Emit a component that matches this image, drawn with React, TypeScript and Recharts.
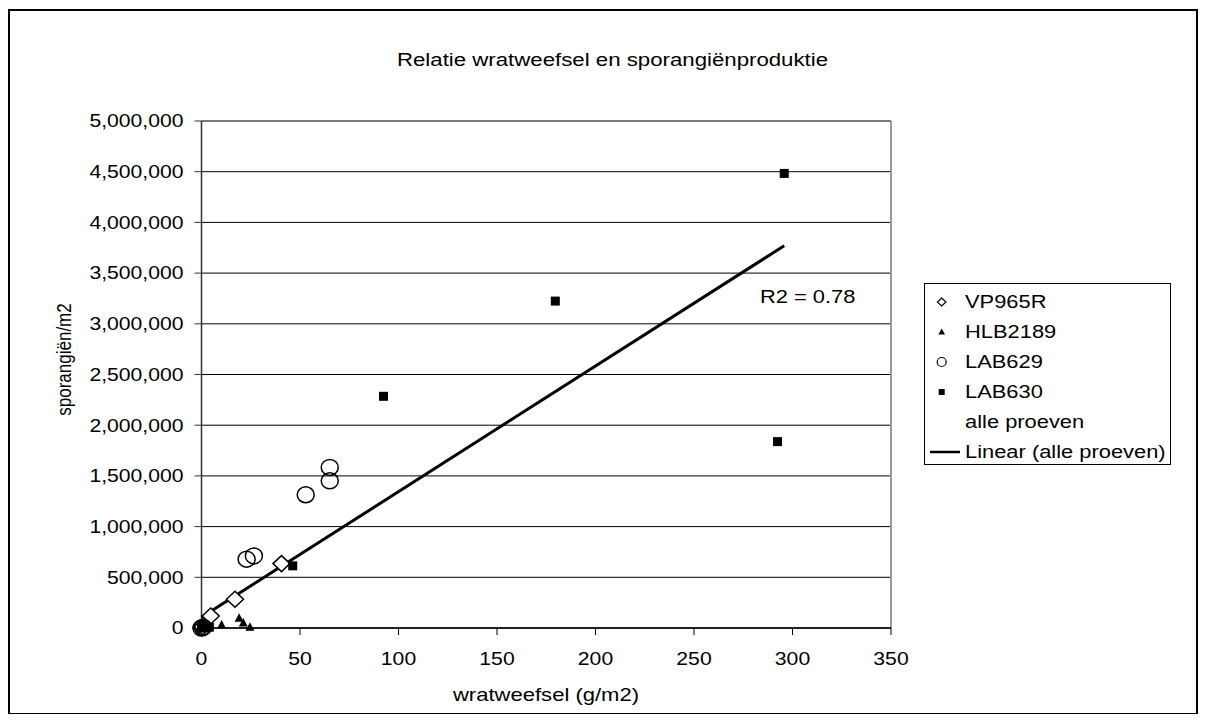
import React from 'react';
import {
  ScatterChart,
  Scatter,
  XAxis,
  YAxis,
  CartesianGrid,
  ReferenceLine,
  Legend,
} from 'recharts';

// values
const vp965r = [
  { x: 0, y: 0 },
  { x: 0.6, y: 12000 },
  { x: 4.7, y: 119000 },
  { x: 17, y: 283000 },
  { x: 40.6, y: 635000 },
];
const hlb2189 = [
  { x: 1, y: 0 },
  { x: 10.2, y: 30000 },
  { x: 19.1, y: 95000 },
  { x: 21.2, y: 50000 },
  { x: 24.6, y: 8000 },
];
const lab629 = [
  { x: 0, y: 0 },
  { x: 0.8, y: 8000 },
  { x: 22.9, y: 679000 },
  { x: 26.6, y: 711000 },
  { x: 52.9, y: 1314000 },
  { x: 65.1, y: 1452000 },
  { x: 65.1, y: 1584000 },
];
const lab630 = [
  { x: 0, y: 0 },
  { x: 0, y: 22000 },
  { x: 0.4, y: 30000 },
  { x: 1.5, y: 15000 },
  { x: 2.5, y: 3000 },
  { x: 4, y: 8000 },
  { x: 46.3, y: 613000 },
  { x: 92.4, y: 2285000 },
  { x: 179.6, y: 3224000 },
  { x: 292.4, y: 1838000 },
  { x: 295.8, y: 4483000 },
];
// trend line end points as drawn in the reference
const trendLine = [
  { x: 0, y: 106000 },
  { x: 295.8, y: 3770000 },
];

const seriesNames = ['VP965R', 'HLB2189', 'LAB629', 'LAB630', 'alle proeven', 'Linear (alle proeven)'];
const xTicks = [0, 50, 100, 150, 200, 250, 300, 350];
const yTicks = [0, 500000, 1000000, 1500000, 2000000, 2500000, 3000000, 3500000, 4000000, 4500000, 5000000];

const FONT = '"Liberation Sans", Arial, sans-serif';
const FS = 17.5;

const Diamond = ({ cx, cy }: any) => (
  <path
    d={`M${cx},${cy - 8} L${cx + 8.5},${cy} L${cx},${cy + 8} L${cx - 8.5},${cy} Z`}
    fill="#fff"
    stroke="#000"
    strokeWidth={1.5}
  />
);
const Triangle = ({ cx, cy }: any) => (
  <path d={`M${cx},${cy - 5} L${cx + 4.5},${cy + 3.5} L${cx - 4.5},${cy + 3.5} Z`} fill="#000" />
);
const Ring = ({ cx, cy }: any) => (
  <ellipse cx={cx} cy={cy} rx={8.5} ry={8} fill="none" stroke="#000" strokeWidth={1.5} />
);
const Square = ({ cx, cy }: any) => <rect x={cx - 4.5} y={cy - 4.5} width={9} height={9} fill="#000" />;

const XTick = ({ x, y, payload }: any) => (
  <g transform={`translate(${x},${y})`}>
    <text transform="scale(1.21,1)" textAnchor="middle" dy="0.71em" fontSize={FS} fontFamily={FONT} fill="#000">
      {payload.value}
    </text>
  </g>
);

const YTick = ({ x, y, payload }: any) => (
  <g transform={`translate(${x},${y})`}>
    <text transform="scale(1.21,1)" textAnchor="end" dy="0.36em" fontSize={FS} fontFamily={FONT} fill="#000">
      {Number(payload.value).toLocaleString('en-US')}
    </text>
  </g>
);

const legendMarkers = [
  <path d="M17.7,11 L22,15 L17.7,19 L13.4,15 Z" fill="#fff" stroke="#000" strokeWidth={1.2} />,
  <path d="M17.7,11.5 L21,17.5 L14.4,17.5 Z" fill="#000" />,
  <circle cx={17.7} cy={15} r={4.5} fill="none" stroke="#000" strokeWidth={1.2} />,
  <rect x={14.7} y={12} width={6} height={6} fill="#000" />,
  null,
  <line x1={6} y1={15} x2={36} y2={15} stroke="#000" strokeWidth={2.5} />,
];

const renderLegend = () => (
  <div
    style={{
      width: 247,
      height: 182,
      border: '1px solid #000',
      boxSizing: 'border-box',
      background: '#fff',
      paddingTop: 2.7,
      fontFamily: FONT,
      fontSize: FS,
      color: '#000',
    }}
  >
    {seriesNames.map((name, i) => (
      <div key={name} style={{ position: 'relative', height: 30 }}>
        <svg width={40} height={30} style={{ position: 'absolute', left: -1, top: 0 }}>
          {legendMarkers[i]}
        </svg>
        <span
          style={{
            position: 'absolute',
            left: 40,
            top: 0,
            lineHeight: '30px',
            whiteSpace: 'nowrap',
            transform: 'scaleX(1.25)',
            transformOrigin: 'left center',
          }}
        >
          {name}
        </span>
      </div>
    ))}
  </div>
);

export default function App() {
  return (
    <div
      style={{
        position: 'relative',
        top: 1,
        width: 1190,
        height: 706,
        border: '2px solid #000',
        boxSizing: 'border-box',
        background: '#fff',
      }}
    >
      <ScatterChart width={1186} height={702} margin={{ top: 110, right: 305, bottom: 45, left: 91.5 }}>
        <CartesianGrid horizontal vertical={false} stroke="#000" strokeWidth={1} />
        <XAxis
          type="number"
          dataKey="x"
          domain={[0, 350]}
          ticks={xTicks}
          height={40}
          tickSize={7}
          tickMargin={18}
          tick={<XTick />}
          axisLine={{ stroke: '#000', strokeWidth: 1.5 }}
          tickLine={{ stroke: '#000' }}
        />
        <YAxis
          type="number"
          dataKey="y"
          domain={[0, 5000000]}
          ticks={yTicks}
          width={100}
          tickSize={7}
          tickMargin={11}
          tick={<YTick />}
          axisLine={{ stroke: '#333', strokeWidth: 1.5 }}
          tickLine={{ stroke: '#333' }}
        />
        <ReferenceLine x={350} stroke="#999" strokeWidth={2} />
        <ReferenceLine y={5000000} stroke="#777" strokeWidth={1.5} />
        <Scatter
          name="Linear (alle proeven)"
          data={trendLine}
          line={{ stroke: '#000', strokeWidth: 3 }}
          shape={() => <g />}
          isAnimationActive={false}
        />
        <Scatter name="VP965R" data={vp965r} shape={<Diamond />} isAnimationActive={false} />
        <Scatter name="HLB2189" data={hlb2189} shape={<Triangle />} isAnimationActive={false} />
        <Scatter name="LAB629" data={lab629} shape={<Ring />} isAnimationActive={false} />
        <Scatter name="LAB630" data={lab630} shape={<Square />} isAnimationActive={false} />
        <Legend
          content={renderLegend}
          layout="vertical"
          align="center"
          verticalAlign="middle"
          wrapperStyle={{ left: 914, top: 272, width: 247, height: 182 }}
        />
        <text
          transform="translate(602.5,55) scale(1.27,1)"
          textAnchor="middle"
          fontSize={FS}
          fontFamily={FONT}
          fill="#000"
        >
          Relatie wratweefsel en sporangiënproduktie
        </text>
        <text
          transform="translate(536,690) scale(1.26,1)"
          textAnchor="middle"
          fontSize={FS}
          fontFamily={FONT}
          fill="#000"
        >
          wratweefsel (g/m2)
        </text>
        <text
          transform="translate(61,348.5) scale(1.2,1) rotate(-90)"
          textAnchor="middle"
          fontSize={17}
          fontFamily={FONT}
          fill="#000"
        >
          sporangiën/m2
        </text>
        <text
          transform="translate(750,292) scale(1.25,1)"
          textAnchor="start"
          fontSize={FS}
          fontFamily={FONT}
          fill="#000"
        >
          R2 = 0.78
        </text>
      </ScatterChart>
    </div>
  );
}
